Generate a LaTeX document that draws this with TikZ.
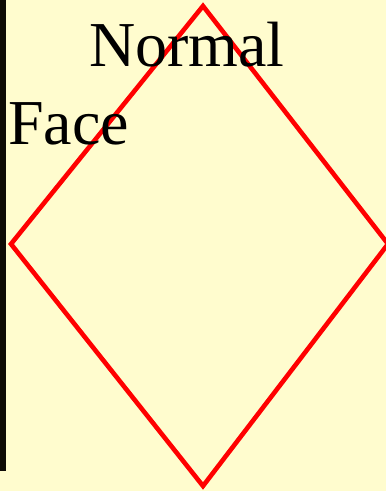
\documentclass[tikz,border=0pt]{standalone}
\usepackage{fontspec}
\setmainfont{Liberation Serif}
\usetikzlibrary{positioning}
\definecolor{cream}{RGB}{255,252,206}
\definecolor{strip}{RGB}{14,11,6}

\begin{document}
\begin{tikzpicture}[
    x=1pt, y=-1pt,
    label/.style={font=\fontsize{64}{64}\selectfont, inner sep=0pt, anchor=base west},
    edge/.style={draw=red, line width=4.6pt, line join=miter}
]
% page and left strip
\fill[cream] (0,0) rectangle (386,491);
\useasboundingbox (0,0) rectangle (386,491);
\fill[strip] (0,0) rectangle (6,471);

\coordinate (top) at (203,6);
\coordinate (left) at (11,244);
\coordinate (right) at (388,244);
\coordinate (bottom) at (203,486);

\draw[edge] (top) -- (right) -- (bottom) -- (left) -- cycle;

\node[label] (normal) at (89,66) {Normal};
\node[label] (face) at (8,144) {Face};
\end{tikzpicture}
\end{document}
